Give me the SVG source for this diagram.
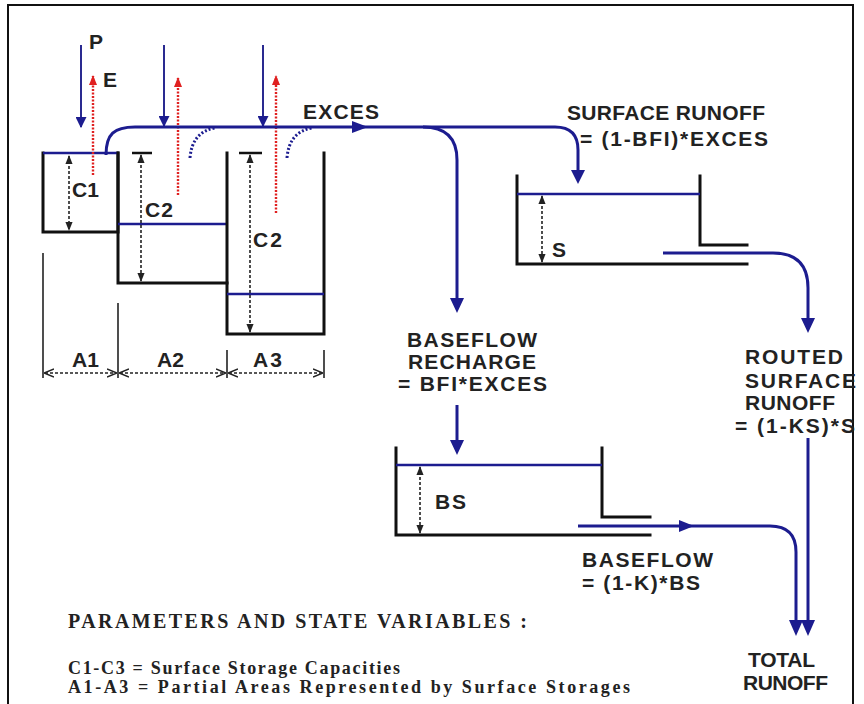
<svg xmlns="http://www.w3.org/2000/svg" width="864" height="704" viewBox="0 0 864 704">
<defs>
<style>
.wall{stroke:#111;stroke-width:3;fill:none;stroke-linecap:square}
.water{stroke:#1c1c8f;stroke-width:2.6;fill:none}
.flow{stroke:#1c1c8f;stroke-width:3;fill:none}
.pin{stroke:#2a2a90;stroke-width:2;fill:none}
.evap{stroke:#e02020;stroke-width:2.4;stroke-dasharray:2 1.5;fill:none}
.dim{stroke:#222;stroke-width:1.6;stroke-dasharray:3 2;fill:none}
.spill{stroke:#1c1c8f;stroke-width:3;stroke-dasharray:2 2;fill:none}
.lbl{font-family:"Liberation Sans",Arial,sans-serif;font-weight:bold;font-size:21px;fill:#222}
.ser{font-family:"Liberation Serif","Times New Roman",serif;font-weight:bold;font-size:20px;fill:#222}
.ser2{font-family:"Liberation Serif","Times New Roman",serif;font-weight:bold;font-size:18px;fill:#222}
.ah{fill:#1c1c8f}
</style>
<marker id="mb" viewBox="0 0 10 10" refX="9" refY="5" markerWidth="11" markerHeight="11" orient="auto-start-reverse" markerUnits="userSpaceOnUse"><path d="M0,0 L10,5 L0,10 z" fill="#1c1c8f"/></marker>
<marker id="mr" viewBox="0 0 10 10" refX="9" refY="5" markerWidth="10" markerHeight="10" orient="auto-start-reverse" markerUnits="userSpaceOnUse"><path d="M0,1 L10,5 L0,9 z" fill="#e02020"/></marker>
<marker id="mk" viewBox="0 0 10 10" refX="9" refY="5" markerWidth="9" markerHeight="9" orient="auto-start-reverse" markerUnits="userSpaceOnUse"><path d="M0,1 L10,5 L0,9 z" fill="#222"/></marker>
<marker id="md" viewBox="0 0 10 10" refX="9" refY="5" markerWidth="10" markerHeight="10" orient="auto-start-reverse" markerUnits="userSpaceOnUse"><path d="M0,1 L10,5 L0,9" fill="none" stroke="#222" stroke-width="1.5"/></marker>
</defs>

<rect x="8" y="5" width="845" height="730" fill="none" stroke="#111" stroke-width="2"/>

<g id="tank1">
<path class="wall" d="M43,153 V232 H118 V153"/>
<line class="water" x1="43" y1="153" x2="118" y2="153"/>
<line class="dim" x1="69" y1="156" x2="69" y2="230" marker-start="url(#mk)" marker-end="url(#mk)"/>
<text class="lbl" x="72" y="197" textLength="27">C1</text>
</g>

<g id="tank2">
<path class="wall" d="M118,153 V283 H227"/>
<line class="water" x1="118" y1="224" x2="227" y2="224"/>
<line x1="132" y1="153" x2="152" y2="153" stroke="#111" stroke-width="2.5"/>
<line class="dim" x1="141" y1="155" x2="141" y2="281" marker-start="url(#mk)" marker-end="url(#mk)"/>
<text class="lbl" x="145" y="217" textLength="28">C2</text>
</g>

<g id="tank3">
<path class="wall" d="M227,153 V334 H324 V153"/>
<line class="water" x1="227" y1="294" x2="324" y2="294"/>
<line x1="239" y1="153" x2="262" y2="153" stroke="#111" stroke-width="2.5"/>
<line class="dim" x1="250" y1="155" x2="250" y2="332" marker-start="url(#mk)" marker-end="url(#mk)"/>
<text class="lbl" x="253" y="247" textLength="29">C2</text>
</g>

<g id="areas">
<line x1="43" y1="253" x2="43" y2="378" stroke="#222" stroke-width="1.6"/>
<line x1="118" y1="303" x2="118" y2="378" stroke="#222" stroke-width="1.6"/>
<line x1="227" y1="350" x2="227" y2="378" stroke="#222" stroke-width="1.6"/>
<line x1="324" y1="350" x2="324" y2="378" stroke="#222" stroke-width="1.6"/>
<line class="dim" x1="45" y1="373" x2="116" y2="373" marker-start="url(#md)" marker-end="url(#md)"/>
<line class="dim" x1="120" y1="373" x2="225" y2="373" marker-start="url(#md)" marker-end="url(#md)"/>
<line class="dim" x1="229" y1="373" x2="322" y2="373" marker-start="url(#md)" marker-end="url(#md)"/>
<text class="lbl" x="72" y="367" textLength="27">A1</text>
<text class="lbl" x="157" y="367" textLength="27">A2</text>
<text class="lbl" x="253" y="367" textLength="29">A3</text>
</g>

<g id="inputs">
<text class="lbl" x="89" y="49">P</text>
<text class="lbl" x="103" y="87">E</text>
<line class="pin" x1="81" y1="45" x2="81" y2="127" marker-end="url(#mb)"/>
<line class="pin" x1="164" y1="45" x2="164" y2="126" marker-end="url(#mb)"/>
<line class="pin" x1="263" y1="45" x2="263" y2="126" marker-end="url(#mb)"/>
<line class="evap" x1="93" y1="175" x2="93" y2="76" marker-end="url(#mr)"/>
<line class="evap" x1="178" y1="195" x2="178" y2="78" marker-end="url(#mr)"/>
<line class="evap" x1="276" y1="213" x2="276" y2="76" marker-end="url(#mr)"/>
</g>

<g id="surface-store">
<path class="wall" d="M517,176 V264 H747"/>
<path class="wall" d="M700,176 V245 H747"/>
<line class="water" x1="517" y1="194" x2="700" y2="194"/>
<line class="dim" x1="542" y1="196" x2="542" y2="262" marker-start="url(#mk)" marker-end="url(#mk)"/>
<text class="lbl" x="552" y="257">S</text>
</g>

<g id="base-store">
<path class="wall" d="M396,448 V535 H650"/>
<path class="wall" d="M602,448 V517 H650"/>
<line class="water" x1="396" y1="465" x2="602" y2="465"/>
<line class="dim" x1="420" y1="467" x2="420" y2="533" marker-start="url(#mk)" marker-end="url(#mk)"/>
<text class="lbl" x="435" y="509" textLength="31">BS</text>
</g>

<g id="connectors">
<path class="flow" d="M106,155 C106,134 114,127 135,127 H555 Q578,127 578,150 V172"/>
<path class="ah" d="M571,170 L585,170 L578,184 z"/>
<path class="ah" d="M352,121 L368,127 L352,133 z"/>
<path class="flow" d="M423,127 Q457,127 457,160 V300"/>
<path class="ah" d="M450,298 L464,298 L457,313 z"/>
<path class="spill" d="M190,158 Q192,132 215,128"/>
<path class="spill" d="M287,158 Q289,132 312,128"/>
<path class="flow" d="M457,405 V442"/>
<path class="ah" d="M450,440 L464,440 L457,455 z"/>
<path class="flow" d="M663,253 H773 Q808,253 808,288 V320"/>
<path class="ah" d="M801,318 L815,318 L808,333 z"/>
<path class="flow" d="M808,438 V622"/>
<path class="ah" d="M801,620 L815,620 L808,636 z"/>
<path class="flow" d="M578,526 H770 Q796,526 796,552 V622"/>
<path class="ah" d="M679,520 L694,526 L679,532 z"/>
<path class="ah" d="M789,620 L803,620 L796,636 z"/>
</g>

<g id="labels">
<text class="lbl" x="303" y="119" textLength="76">EXCES</text>
<text class="lbl" x="567" y="120" textLength="198">SURFACE  RUNOFF</text>
<text class="lbl" x="580" y="146" textLength="188">= (1-BFI)*EXCES</text>
<text class="lbl" x="407" y="347" textLength="130">BASEFLOW</text>
<text class="lbl" x="408" y="369" textLength="128">RECHARGE</text>
<text class="lbl" x="398" y="391" textLength="149">= BFI*EXCES</text>
<text class="lbl" x="745" y="364" textLength="98">ROUTED</text>
<text class="lbl" x="745" y="388" textLength="111">SURFACE</text>
<text class="lbl" x="745" y="410" textLength="90">RUNOFF</text>
<text class="lbl" x="735" y="433" textLength="120">= (1-KS)*S</text>
<text class="lbl" x="582" y="567" textLength="131">BASEFLOW</text>
<text class="lbl" x="582" y="590" textLength="118">= (1-K)*BS</text>
<text class="lbl" x="748" y="667" textLength="67">TOTAL</text>
<text class="lbl" x="743" y="690" textLength="85">RUNOFF</text>
<text class="ser" x="68" y="628" textLength="459">PARAMETERS AND STATE VARIABLES :</text>
<text class="ser2" x="68" y="674" textLength="332">C1-C3 = Surface Storage Capacities</text>
<text class="ser2" x="68" y="693" textLength="562">A1-A3 = Partial Areas Represented by Surface Storages</text>
</g>
</svg>
